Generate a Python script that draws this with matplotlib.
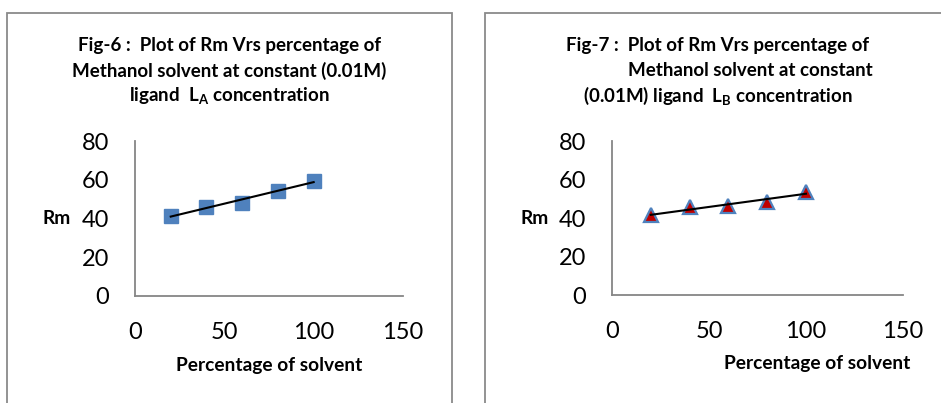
import numpy as np
import matplotlib.pyplot as plt
from matplotlib.patches import Rectangle

plt.rcParams['font.family'] = ['Lato', 'DejaVu Sans']
plt.rcParams['mathtext.fontset'] = 'custom'
plt.rcParams['mathtext.rm'] = 'Lato'
plt.rcParams['mathtext.bf'] = 'Lato:bold'

# percentage of methanol solvent
solvent_pct = [20, 40, 60, 80, 100]
# Rm values for ligand LA (Fig-6) and ligand LB (Fig-7)
rm_la = [41.3, 46.1, 48.2, 54.4, 59.4]
rm_lb = [41.3, 45.8, 46.4, 48.4, 53.7]

x_ticks = [0, 50, 100, 150]
y_ticks = [0, 20, 40, 60, 80]

fig = plt.figure(figsize=(9.41, 4.03), dpi=100)
W, H = 941, 403


def fx(px):
    return px / W


def fy(py):
    return 1 - py / H


# chart area borders
for x0, x1 in [(7, 452), (485, 945)]:
    fig.patches.append(Rectangle((fx(x0), fy(410)), fx(x1 - x0), (410 - 12.5) / H,
                                 transform=fig.transFigure, fill=False,
                                 edgecolor='#8a8a8a', linewidth=1.3))


def setup_axes(ax):
    ax.set_xlim(0, 150)
    ax.set_ylim(0, 80)
    ax.set_xticks(x_ticks)
    ax.set_yticks(y_ticks)
    for s in ['top', 'right']:
        ax.spines[s].set_visible(False)
    for s in ['left', 'bottom']:
        ax.spines[s].set_color('#868686')
        ax.spines[s].set_linewidth(1.3)
    ax.tick_params(axis='both', length=0, labelsize=17, colors='black')
    ax.tick_params(axis='y', pad=18.5)
    ax.tick_params(axis='x', pad=19)
    ax.patch.set_alpha(0)


# Fig-6: ligand LA
ax1 = fig.add_axes([fx(135), fy(296), fx(403 - 135), (296 - 141) / H])
setup_axes(ax1)
ax1.plot(solvent_pct, rm_la, linestyle='none', marker='s', markersize=10.5,
         color='#4f81bd', markeredgecolor='#4f81bd', zorder=3)
k, b = np.polyfit(solvent_pct, rm_la, 1)
xs = np.array([solvent_pct[0], solvent_pct[-1]])
ax1.plot(xs, k * xs + b, color='black', linewidth=1.5, zorder=4)

# Fig-7: ligand LB
ax2 = fig.add_axes([fx(612), fy(295), fx(903 - 612), (295 - 141) / H])
setup_axes(ax2)
ax2.plot(solvent_pct, rm_lb, linestyle='none', marker='^', markersize=10.5,
         color='#c00000', markeredgecolor='#4f81bd', markeredgewidth=1.6, zorder=3)
k, b = np.polyfit(solvent_pct, rm_lb, 1)
ax2.plot(xs, k * xs + b, color='black', linewidth=1.5, zorder=4)

# titles
title_kw = dict(fontsize=13.5, fontweight='bold', ha='center', va='center')
fig.text(fx(229.5), fy(45), 'Fig-6 :  Plot of Rm Vrs percentage of', **title_kw)
fig.text(fx(229.5), fy(70.5), 'Methanol solvent at constant (0.01M)', **title_kw)
fig.text(fx(229.5), fy(96), r'ligand  $\mathbf{L}_\mathbf{A}$ concentration', **title_kw)

fig.text(fx(718), fy(45), 'Fig-7 :  Plot of Rm Vrs percentage of', **title_kw)
fig.text(fx(750.5), fy(70.5), 'Methanol solvent at constant', **title_kw)
fig.text(fx(718), fy(96), r'(0.01M) ligand  $\mathbf{L}_\mathbf{B}$ concentration', **title_kw)

# axis labels
lab_kw = dict(fontsize=13.8, fontweight='bold', va='center')
fig.text(fx(43), fy(218), 'Rm', ha='left', **lab_kw)
fig.text(fx(521), fy(218), 'Rm', ha='left', **lab_kw)
fig.text(fx(269), fy(365), 'Percentage of solvent', ha='center', **lab_kw)
fig.text(fx(817), fy(364), 'Percentage of solvent', ha='center', **lab_kw)

fig.savefig('out.png', dpi=100)
